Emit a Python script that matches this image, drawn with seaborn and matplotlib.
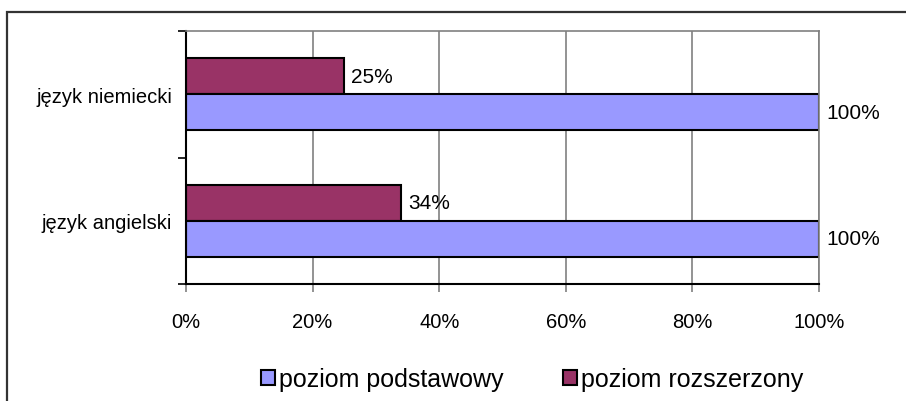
import pandas as pd
import matplotlib.pyplot as plt
import matplotlib.ticker as mticker
from matplotlib.patches import Rectangle, Patch
import seaborn as sns

sns.set_theme(style="white")
plt.rcParams["font.family"] = ["Liberation Sans", "DejaVu Sans"]
plt.rcParams["text.color"] = "black"
plt.rcParams["xtick.color"] = "black"
plt.rcParams["ytick.color"] = "black"

# data
languages = ["język niemiecki", "język angielski"]
basic = [100, 100]      # poziom podstawowy
extended = [25, 34]     # poziom rozszerzony
levels = ["poziom rozszerzony", "poziom podstawowy"]
colors = {"poziom podstawowy": "#9999FF", "poziom rozszerzony": "#993366"}

df = pd.DataFrame({
    "lang": languages * 2,
    "level": [levels[0]] * 2 + [levels[1]] * 2,
    "pct": extended + basic,
})

fig = plt.figure(figsize=(9.06, 4.02), dpi=100)
ax = fig.add_axes([186 / 906, 1 - 285 / 402, (819 - 186) / 906, (285 - 32) / 402])

sns.barplot(data=df, y="lang", x="pct", hue="level", order=languages,
            hue_order=levels, palette=colors, orient="h", width=0.57,
            gap=0, saturation=1, edgecolor="black", linewidth=1.5, ax=ax,
            legend=False)

for cont in ax.containers:
    ax.bar_label(cont, fmt="{:.0f}%", padding=5, fontsize=15, color="black")

ax.set_xlim(0, 100)
ax.set_ylim(1.5, -0.5)
ax.xaxis.set_major_locator(mticker.MultipleLocator(20))
ax.xaxis.set_major_formatter(mticker.FuncFormatter(lambda v, p: f"{v:.0f}%"))
ax.grid(axis="x", color="#808080", linewidth=1.2)
ax.set_axisbelow(True)
ax.set_xlabel("")
ax.set_ylabel("")

# category ticks sit between the groups
ax.yaxis.set_minor_locator(mticker.FixedLocator([-0.5, 0.5, 1.5]))
ax.tick_params(axis="y", which="major", length=0, pad=10, labelsize=14.5)
ax.tick_params(axis="y", which="minor", length=6, width=1.2, color="black", left=True)
ax.tick_params(axis="x", length=6, width=1.2, color="#808080", bottom=True,
               labelsize=14.5, labelcolor="black", pad=14)

for side in ["top", "right"]:
    ax.spines[side].set_color("#808080")
    ax.spines[side].set_linewidth(1.2)
for side in ["left", "bottom"]:
    ax.spines[side].set_color("black")
    ax.spines[side].set_linewidth(1.5)

handles = [Patch(facecolor=colors[l], edgecolor="black", linewidth=1.5)
           for l in ["poziom podstawowy", "poziom rozszerzony"]]
fig.legend(handles, ["poziom podstawowy", "poziom rozszerzony"],
           loc="center", bbox_to_anchor=(532 / 906, 1 - 380 / 402), ncol=2,
           frameon=False, fontsize=18, handlelength=0.55, handleheight=0.55,
           handletextpad=0.15, columnspacing=2.4)

# outer chart border (cropped on right and bottom)
fig.patches.append(Rectangle((6.5 / 906, -0.1), 1.2, 1.1 - 12.5 / 402,
                             transform=fig.transFigure, fill=False,
                             edgecolor="#333333", linewidth=1.6))

fig.savefig("out.png", dpi=100)
